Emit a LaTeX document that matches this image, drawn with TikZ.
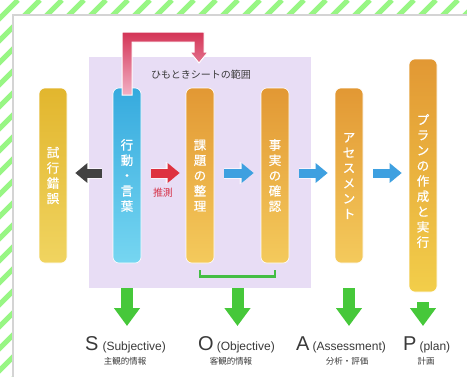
\documentclass[tikz,border=0pt]{standalone}
\usepackage{fontspec}
\setmainfont{Liberation Sans}
\newfontfamily\cjk{Noto Sans CJK JP}
\newfontfamily\cjkbar[FakeBold=0.6]{Noto Sans CJK JP}
\usetikzlibrary{arrows.meta,calc}
\definecolor{stripe}{RGB}{152,246,132}
\definecolor{panelborder}{RGB}{212,212,212}
\definecolor{boxbg}{RGB}{232,221,245}
\definecolor{yTop}{RGB}{226,182,46}
\definecolor{yBot}{RGB}{240,212,96}
\definecolor{bTop}{RGB}{54,170,222}
\definecolor{bBot}{RGB}{118,214,241}
\definecolor{oTop}{RGB}{226,152,52}
\definecolor{oBot}{RGB}{244,202,92}
\definecolor{pBot}{RGB}{242,206,74}
\definecolor{arrowdark}{RGB}{66,66,66}
\definecolor{arrowred}{RGB}{222,50,64}
\definecolor{arrowblue}{RGB}{62,160,224}
\definecolor{arrowgreen}{RGB}{70,200,58}
\definecolor{bracketgreen}{RGB}{68,190,68}
\definecolor{lTop}{RGB}{212,52,86}
\definecolor{lBot}{RGB}{242,176,196}
\definecolor{txt}{RGB}{58,58,58}
\definecolor{redtxt}{RGB}{214,48,70}
\begin{document}
\begin{tikzpicture}[x=1pt,y=-1pt,
  bar/.style={rounded corners=6pt, minimum width=28pt, inner sep=0pt, draw=white, line width=0.6pt},
  bartext/.style={font=\cjkbar\fontsize{12.5}{15.3}\selectfont, text=white, align=center, inner sep=0pt},
  harrow/.style={line width=9pt, -{Triangle[length=12pt,width=19pt]}, shorten <=10pt, shorten >=7pt,
    preaction={draw=white, draw opacity=0.7, line width=11pt, -{Triangle[length=14pt,width=22pt]}}},
  garrow/.style={draw=arrowgreen, line width=12pt, -{Triangle[length=18pt,width=25pt]}},
  letter/.style={anchor=base west, text=txt, inner sep=0pt},
  sublabel/.style={font=\cjk\fontsize{8.5}{9}\selectfont, text=txt, inner sep=0pt},
]
\useasboundingbox (0,0) rectangle (467,376);
% striped background
\begin{scope}
  \clip (0,0) rectangle (467,376);
  \foreach \k in {0,...,40}{
    \draw[stripe, line width=5pt] ({18+22*\k},0) -- ({18+22*\k-420},420);
  }
\end{scope}
% white panel
\fill[white] (13,15) rectangle (480,390);
\draw[panelborder, line width=1.5pt] (13,390) -- (13,15) -- (480,15);

% purple range box
\node[fill=boxbg, minimum width=222pt, minimum height=231pt, inner sep=0pt] (box) at (200,172.5) {};
\node[font=\cjk\fontsize{10}{12}\selectfont, text=txt, inner sep=0pt] (rangelabel) at (201,75) {ひもときシートの範囲};

% bars
\node[bar, minimum height=175pt, top color=yTop, bottom color=yBot] (b1) at (53,175.5) {};
\node[bar, minimum height=175pt, top color=bTop, bottom color=bBot] (b2) at (127,175.5) {};
\node[bar, minimum height=175pt, top color=oTop, bottom color=oBot] (b3) at (200,175.5) {};
\node[bar, minimum height=175pt, top color=oTop, bottom color=oBot] (b4) at (275,175.5) {};
\node[bar, minimum height=175pt, top color=oTop, bottom color=oBot] (b5) at (349,175.5) {};
\node[bar, minimum height=233pt, top color=oTop, bottom color=pBot] (b6) at (423,175.5) {};

\node[bartext] (t1) at (53,175.5) {試\\行\\錯\\誤};
\node[bartext] (t2) at (127,175.5) {行\\動\\・\\言\\葉};
\node[bartext] (t3) at (200,175.5) {課\\題\\の\\整\\理};
\node[bartext] (t4) at (275,175.5) {事\\実\\の\\確\\認};
\node[bartext] (t5) at (349,176) {ア\\セ\\ス\\メ\\ン\\ト};
\node[bartext] (t6) at (423,181) {プ\\ラ\\ン\\の\\作\\成\\と\\実\\行};

% red L-shaped feedback arrow
\coordinate (ltip) at (199,63);
\shade[top color=lTop, bottom color=lBot, draw=white, line width=1pt]
  (122,95) -- (122,32) -- (204,32) -- (204,52) -- (208,52) -- (ltip)
  -- (190,52) -- (194,52) -- (194,42) -- (132,42) -- (132,95) -- cycle;

% horizontal block arrows
\coordinate (row) at (0,173);
\draw[harrow, draw=arrowdark, shorten <=11pt, shorten >=8pt] (b2.west |- row) -- (b1.east |- row);
\draw[harrow, draw=arrowred, shorten >=6pt] (b2.east |- row) -- (b3.west |- row);
\draw[harrow, draw=arrowblue] (b3.east |- row) -- (b4.west |- row);
\draw[harrow, draw=arrowblue] (b4.east |- row) -- (b5.west |- row);
\draw[harrow, draw=arrowblue] (b5.east |- row) -- (b6.west |- row);
\node[font=\cjk\fontsize{10}{12}\selectfont, text=redtxt, inner sep=0pt] (guess) at (163,193) {推測};

% green bracket
\draw[bracketgreen, line width=2.5pt] ($(b3.south)+(0,7)$) -- ($(b3.south)+(0,13)$) -- ($(b4.south)+(0,13)$) -- ($(b4.south)+(0,7)$);

% green down arrows
\coordinate (tipS) at (127,326);
\coordinate (tipO) at (237.5,326);
\coordinate (tipA) at (349,326);
\coordinate (tipP) at (423,326);
\draw[garrow] (box.south -| b2) -- (tipS);
\draw[garrow] (box.south -| tipO) -- (tipO);
\draw[garrow] (box.south -| b5) -- (tipA);
\draw[garrow, shorten <=10pt] (b6.south) -- (tipP);

% bottom labels
\node[letter] (lS) at (85,350) {\fontsize{20}{20}\selectfont S\hspace{4pt}\fontsize{12}{14}\selectfont(Subjective)};
\node[letter] (lO) at (198,350) {\fontsize{20}{20}\selectfont O\hspace{3pt}\fontsize{12}{14}\selectfont(Objective)};
\node[letter] (lA) at (296,350) {\fontsize{20}{20}\selectfont A\hspace{3pt}\fontsize{12}{14}\selectfont(Assessment)};
\node[letter] (lP) at (403,350) {\fontsize{20}{20}\selectfont P\hspace{3pt}\fontsize{12}{14}\selectfont(plan)};
\node[sublabel] (jS) at (125,361) {主観的情報};
\node[sublabel] (jO) at (231,361) {客観的情報};
\node[sublabel] (jA) at (347,361) {分析・評価};
\node[sublabel] (jP) at (426,361) {計画};
\end{tikzpicture}
\end{document}
